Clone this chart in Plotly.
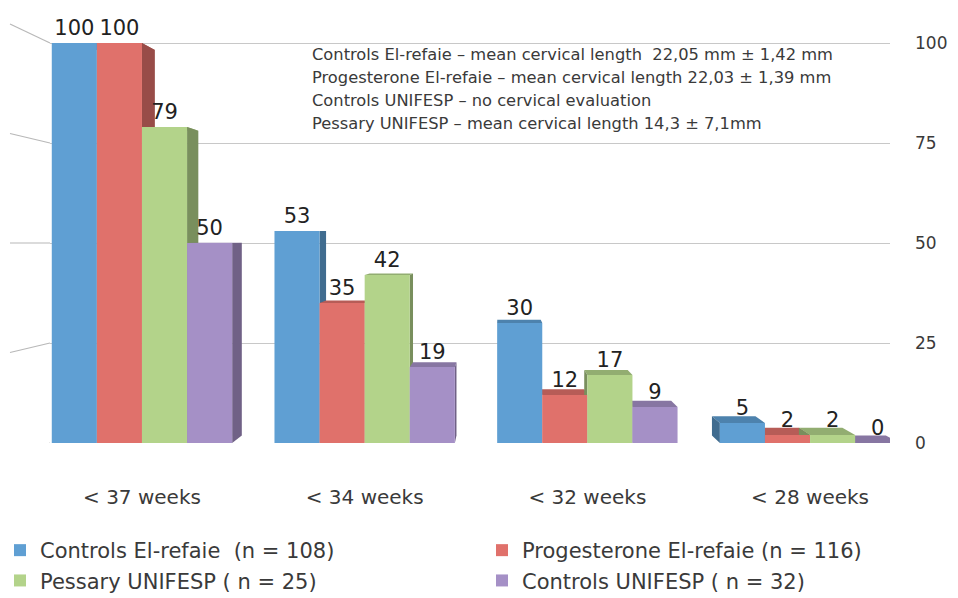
import plotly.graph_objects as go

categories = ["< 37 weeks", "< 34 weeks", "< 32 weeks", "< 28 weeks"]
series_names = ["Controls El-refaie  (n = 108)", "Progesterone El-refaie (n = 116)",
                "Pessary UNIFESP ( n = 25)", "Controls UNIFESP ( n = 32)"]
controls_elrefaie = [100, 53, 30, 5]
progesterone_elrefaie = [100, 35, 12, 2]
pessary_unifesp = [79, 42, 17, 2]
controls_unifesp = [50, 19, 9, 0]
series_values = [controls_elrefaie, progesterone_elrefaie, pessary_unifesp, controls_unifesp]
colors = ["#5f9fd3", "#e0716b", "#b3d38a", "#a590c6"]
legend_slots = ["legend", "legend2", "legend", "legend2"]
y_ticks = [0, 25, 50, 75, 100]
notes = [
    "Controls El-refaie – mean cervical length  22,05 mm ± 1,42 mm",
    "Progesterone El-refaie – mean cervical length 22,03 ± 1,39 mm",
    "Controls UNIFESP – no cervical evaluation",
    "Pessary UNIFESP – mean cervical length 14,3 ± 7,1mm",
]

FONT = "DejaVu Sans"
TXT = "#3a3a3a"

# layout geometry
W, H = 958, 598
ML, MR, MT, MB = 50, 68, 23, 155
XR = [-0.413, 3.359]
YR = [0, 105]
BARGAP = 0.19
PW, PH = W - ML - MR, H - MT - MB
xpos = list(range(len(categories)))


def shade(hexcol, f):
    r, g, b = int(hexcol[1:3], 16), int(hexcol[3:5], 16), int(hexcol[5:7], 16)
    return "#%02x%02x%02x" % (int(r * f), int(g * f), int(b * f))


def px(x):
    return ML + (x - XR[0]) / (XR[1] - XR[0]) * PW


def py(y):
    return MT + PH - (y - YR[0]) / (YR[1] - YR[0]) * PH


def dx(p):
    return XR[0] + (p - ML) / PW * (XR[1] - XR[0])


def dy(p):
    return YR[0] + (MT + PH - p) / PH * (YR[1] - YR[0])


fig = go.Figure()
for i, (name, vals, col, lg) in enumerate(zip(series_names, series_values, colors, legend_slots)):
    fig.add_trace(go.Bar(
        x=xpos, y=vals, name=name, legend=lg, legendgroup=f"g{i}",
        marker=dict(color=col, line=dict(width=0)),
        text=[str(v) for v in vals], textposition="outside",
        textfont=dict(family=FONT, size=21, color="#222"),
        cliponaxis=False,
    ))

shapes = []
# slanted wall lines at left (3D wall look)
for t in y_ticks:
    shapes.append(dict(type="line", xref="paper", yref="y",
                       x0=-40 / PW, x1=0, y0=t + (t - 50) * 0.095, y1=t,
                       line=dict(color="#b8b8b8", width=1.2), layer="below"))

# 3D depth faces (perspective toward a vanishing point), derived from bar values
VP = (500.0, 234.0)
FDEPTH = 0.036
nser = len(series_values)
gw = 1 - BARGAP
bw = gw / nser


def back(p):
    return (p[0] + FDEPTH * (VP[0] - p[0]), p[1] + FDEPTH * (VP[1] - p[1]))


def path(pts):
    return "M " + " L ".join(f"{dx(a):.5f},{dy(b):.4f}" for a, b in pts) + " Z"


for s, (vals, col) in enumerate(zip(series_values, colors)):
    for c, v in zip(xpos, vals):
        xl = c - gw / 2 + bw * s
        xr = xl + bw
        ftl, ftr = (px(xl), py(v)), (px(xr), py(v))
        fbl, fbr = (px(xl), py(0)), (px(xr), py(0))
        shapes.append(dict(type="path", xref="x", yref="y", layer="between",
                           path=path([ftl, ftr, back(ftr), back(ftl)]),
                           fillcolor=shade(col, 0.82), line=dict(width=0)))
        if back(ftr)[0] > ftr[0]:
            side = [ftr, fbr, back(fbr), back(ftr)]
        else:
            side = [ftl, fbl, back(fbl), back(ftl)]
        shapes.append(dict(type="path", xref="x", yref="y", layer="between",
                           path=path(side), fillcolor=shade(col, 0.68),
                           line=dict(width=0)))

annotations = []
for i, n in enumerate(notes):
    annotations.append(dict(xref="paper", yref="paper", x=(310 - ML) / PW,
                            y=(443 - 55 - i * 22.7) / PH, xanchor="left", yanchor="middle",
                            text=n, showarrow=False,
                            font=dict(family=FONT, size=16.3, color=TXT)))

legend_common = dict(orientation="v", xref="container", yref="container",
                     xanchor="left", yanchor="top", itemwidth=30,
                     tracegroupgap=0, bgcolor="rgba(0,0,0,0)",
                     font=dict(family=FONT, size=21, color=TXT))

fig.update_layout(
    width=W, height=H,
    margin=dict(l=ML, r=MR, t=MT, b=MB, autoexpand=False),
    paper_bgcolor="white", plot_bgcolor="white",
    barmode="group", bargap=BARGAP, bargroupgap=0,
    font=dict(family=FONT, color=TXT),
    shapes=shapes, annotations=annotations,
    showlegend=True,
    legend=dict(x=0.0, y=1 - 530 / H, **legend_common),
    legend2=dict(x=482 / W, y=1 - 530 / H, **legend_common),
    xaxis=dict(range=XR, tickvals=xpos, ticktext=categories,
               showgrid=False, showline=False, zeroline=False,
               ticks="", ticklabelstandoff=40, automargin=False,
               tickfont=dict(family=FONT, size=20, color=TXT)),
    yaxis=dict(range=YR, side="right", tickvals=y_ticks, automargin=False,
               showgrid=True, gridcolor="#c8c8c8", gridwidth=1.2, zeroline=False,
               showline=False, ticks="", ticklabelstandoff=24,
               tickfont=dict(family=FONT, size=17, color=TXT)),
)

fig.write_html("out.html", config={"displayModeBar": False},
               post_script="document.body.style.margin='0';")
